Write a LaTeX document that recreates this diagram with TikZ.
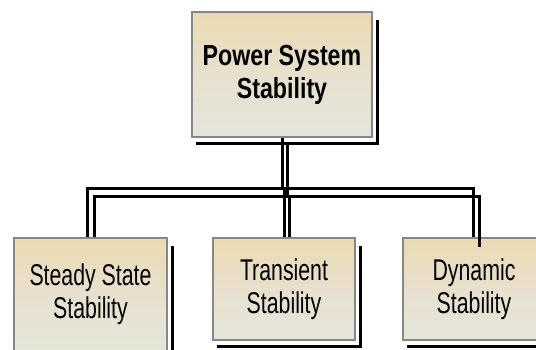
\documentclass[tikz,border=0pt]{standalone}
\usepackage{fontspec}
\setmainfont{Liberation Sans}
\definecolor{boxtop}{RGB}{235,219,178}
\definecolor{boxmid}{RGB}{232,224,206}
\definecolor{boxbot}{RGB}{228,230,218}
\definecolor{boxedge}{RGB}{135,135,135}
\tikzset{
  stabbox/.style={draw=boxedge, line width=2.5pt, inner sep=0pt, align=center,
    top color=boxtop, bottom color=boxbot, middle color=boxmid,
    font={\fontsize{30}{33}\selectfont}},
  headbox/.style={stabbox, font={\bfseries\fontsize{29}{33}\selectfont}},
  boxshadow/.style={draw=black, line width=2.8pt},
  conn/.style={draw=black, line width=3pt},
}
\newcommand{\narrowtxt}[1]{\scalebox{0.71}[1]{#1}}
\newcommand{\headtxt}[1]{\scalebox{0.80}[1]{#1}}
\begin{document}
\begin{tikzpicture}[x=1pt,y=-1pt]
\useasboundingbox (0,0) rectangle (536,349);
\clip (0,0) rectangle (536,349);
% boxes
\node[headbox, minimum width=180pt, minimum height=125pt] (top) at (282,74.5)
  {\headtxt{Power System}\\\headtxt{Stability}};
\node[stabbox, minimum width=153pt, minimum height=113pt] (b1) at (90.5,294.5)
  {\narrowtxt{Steady State}\\\narrowtxt{Stability}};
\node[stabbox, minimum width=142pt, minimum height=102pt] (b2) at (284,289)
  {\narrowtxt{Transient}\\\narrowtxt{Stability}};
\node[stabbox, minimum width=142pt, minimum height=102pt] (b3) at (474,289)
  {\narrowtxt{Dynamic}\\\narrowtxt{Stability}};
% box shadows
\foreach \b in {top,b1,b2,b3}
  \draw[boxshadow] ([xshift=4.5pt,yshift=-9pt]\b.north east) |- ([xshift=5pt,yshift=-5pt]\b.south west);
% main connectors
\coordinate (hub) at (282,188);
\draw[conn] (top.south) -- (hub);
\draw[conn] ([xshift=-3pt]b1.north) |- (hub) -| ([xshift=-1pt]b3.north);
\draw[conn] (b2.north) -- ++(0,-50);
% connector shadows
\coordinate (hubs) at (287,196);
\coordinate (s0) at (287,142);
\draw[conn] (s0) -- (hubs);
\draw[conn] ([xshift=3.5pt]b1.north) |- (hubs) -| ([xshift=5pt,yshift=-10pt]b3.north);
\draw[conn] ([xshift=5pt]b2.north) -- ++(0,-42);
\end{tikzpicture}
\end{document}
